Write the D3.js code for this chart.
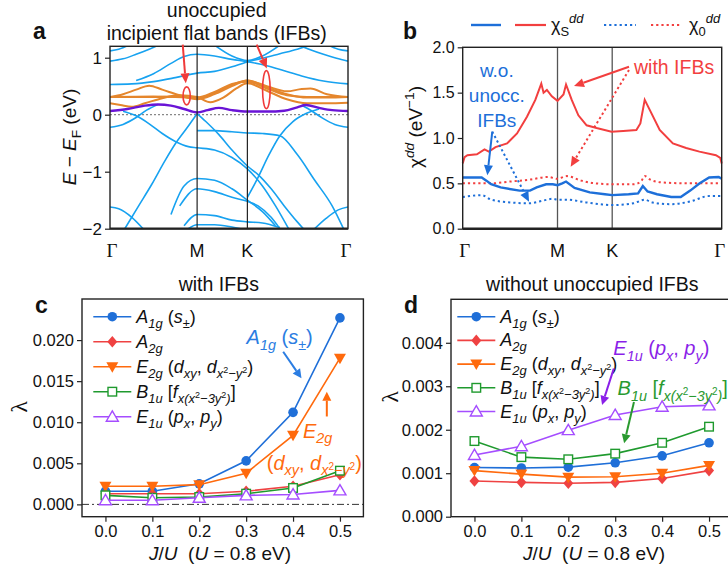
<!DOCTYPE html>
<html><head><meta charset="utf-8">
<script src="https://cdnjs.cloudflare.com/ajax/libs/d3/7.8.5/d3.min.js"></script>
<style>
body{margin:0;background:#fff}
text{font-family:"Liberation Sans",Arial,sans-serif;white-space:pre;fill:#111}
</style>
</head><body>
<script>
// ---------- DATA ----------
const kLabels = ['Γ','M','K','Γ'];
const kPos = [0, 1, 1.577, 2.732];

// panel a: bands as [k, E] (eV)
const blueBands = [
  [[0,0.94],[0.15,0.98],[0.3,1.06],[0.45,1.15],[0.56,1.22]],
  [[0,1.12],[0.1,1.15],[0.22,1.22]],
  [[0,0.53],[0.25,0.54],[0.5,0.58],[0.75,0.65],[1.0,0.73],[1.2,0.76],[1.4,0.84],[1.577,0.93]],
  [[0.3,0.6],[0.5,0.72],[0.7,0.9],[0.85,1.02],[1.0,1.06],[1.2,1.03],[1.4,0.97],[1.577,0.93],[1.8,0.86],[2.0,0.77],[2.2,0.68],[2.45,0.59],[2.732,0.54]],
  [[1.577,0.93],[1.75,0.99],[1.95,1.07],[2.15,1.15],[2.3,1.22]],
  [[1.2,1.22],[1.4,1.03],[1.577,0.95],[1.75,1.03],[1.95,1.22]],
  [[2.17,1.22],[2.3,1.14],[2.45,1.06],[2.6,0.99],[2.732,0.94]],
  [[2.5,1.22],[2.62,1.15],[2.732,1.12]],
  [[0,-0.22],[0.15,-0.17],[0.3,-0.05],[0.42,0.08],[0.55,0.18]],
  [[2.2,0.17],[2.32,0.06],[2.44,-0.06],[2.58,-0.17],[2.732,-0.22]],
  [[0.15,0.06],[0.3,-0.02],[0.45,-0.16],[0.6,-0.33],[0.75,-0.47],[0.9,-0.56],[1.0,-0.58],[1.2,-0.62],[1.4,-0.75],[1.577,-0.95],[1.75,-1.25],[1.9,-1.6],[2.05,-2.0]],
  [[0.17,-2.0],[0.32,-1.62],[0.48,-1.22],[0.63,-0.81],[0.75,-0.51],[0.87,-0.26],[1.0,0.02]],
  [[1.0,0.02],[1.1,-0.12],[1.25,-0.35],[1.4,-0.62],[1.577,-0.9],[1.7,-1.05],[1.85,-1.3],[2.0,-1.6],[2.15,-1.88],[2.22,-2.0]],
  [[1.0,-0.28],[1.2,-0.28],[1.4,-0.3],[1.577,-0.32],[1.75,-0.33],[1.95,-0.37],[2.15,-0.7],[2.35,-1.15],[2.55,-1.6],[2.68,-2.0]],
  [[1.577,-1.45],[1.7,-1.1],[1.82,-0.72],[1.95,-0.37],[2.1,-0.12],[2.25,0.02],[2.4,0.1]],
  [[0.7,-1.75],[0.85,-1.25],[1.0,-1.12],[1.2,-1.15],[1.4,-1.3],[1.577,-1.5],[1.75,-1.7],[1.9,-1.95]],
  [[0.8,-1.6],[1.0,-1.3],[1.2,-1.35],[1.4,-1.45],[1.577,-1.52],[1.7,-1.6],[1.85,-1.8],[1.95,-2.0]],
  [[0.85,-1.95],[1.0,-1.75],[1.2,-1.77],[1.4,-1.85],[1.577,-1.88],[1.75,-1.9],[1.95,-1.98]],
  [[0.9,-2.0],[1.0,-1.93],[1.2,-1.93],[1.4,-1.97],[1.5,-2.0]],
  [[0,-1.62],[0.1,-1.65],[0.25,-1.8],[0.38,-2.0]],
  [[2.35,-2.0],[2.48,-1.82],[2.62,-1.67],[2.732,-1.62]]
];
const orangeBands = [
  [[0,0.31],[0.25,0.31],[0.5,0.31],[0.75,0.32],[1.0,0.29],[1.2,0.38],[1.4,0.52],[1.577,0.6],[1.8,0.48],[2.03,0.36],[2.26,0.3],[2.49,0.3],[2.732,0.31]],
  [[0,0.31],[0.15,0.36],[0.3,0.44],[0.45,0.51],[0.6,0.44],[0.8,0.34],[1.0,0.27],[1.2,0.36],[1.4,0.5],[1.577,0.6],[1.8,0.5],[2.03,0.41],[2.2,0.45],[2.3,0.46],[2.49,0.36],[2.732,0.31]],
  [[0,0.2],[0.12,0.17],[0.25,0.14],[0.4,0.2],[0.6,0.29],[0.8,0.34],[1.0,0.31],[1.15,0.22],[1.3,0.3],[1.45,0.46],[1.577,0.55],[1.8,0.42],[2.03,0.27],[2.26,0.2],[2.49,0.2],[2.732,0.21]],
  [[0,0.31],[0.5,0.32],[1.0,0.3],[1.2,0.4],[1.4,0.54],[1.577,0.58],[1.8,0.46],[2.03,0.34],[2.26,0.31],[2.732,0.31]]
];
const purpleBands = [
  [[0,0.065],[0.2,0.1],[0.4,0.16],[0.55,0.18],[0.7,0.16],[0.85,0.1],[1.0,0.04],[1.12,0.08],[1.25,0.12],[1.4,0.08],[1.577,0.055],[1.8,0.055],[2.0,0.07],[2.15,0.13],[2.25,0.17],[2.4,0.12],[2.55,0.08],[2.732,0.065]]
];

// panel b: chi^dd along k path, [k, chi] (eV^-1)
const chiSWith = [[0,0.72],[0.02,0.79],[0.05,0.81],[0.15,0.82],[0.23,0.875],[0.276,0.85],[0.346,0.9],[0.468,0.94],[0.573,1.05],[0.678,1.235],[0.766,1.42],[0.829,1.6],[0.853,1.5],[0.888,1.53],[0.94,1.46],[1.0,1.41],[1.063,1.48],[1.09,1.59],[1.15,1.42],[1.22,1.25],[1.307,1.14],[1.412,1.11],[1.57,1.07],[1.693,1.077],[1.832,1.088],[1.874,1.16],[1.92,1.42],[1.973,1.31],[2.078,1.09],[2.217,0.94],[2.357,0.89],[2.497,0.85],[2.671,0.81],[2.717,0.78],[2.732,0.72]];
const chi0With = [[0,0.5],[0.3,0.5],[0.5,0.52],[0.7,0.54],[0.9,0.57],[1.0,0.55],[1.1,0.58],[1.25,0.53],[1.4,0.5],[1.577,0.49],[1.8,0.49],[1.88,0.52],[1.92,0.58],[1.98,0.54],[2.1,0.51],[2.4,0.5],[2.732,0.5]];
const chiSWo = [[0,0.565],[0.2,0.565],[0.25,0.53],[0.3,0.49],[0.4,0.455],[0.6,0.42],[0.71,0.42],[0.78,0.455],[0.88,0.49],[0.95,0.49],[1.0,0.48],[1.05,0.5],[1.09,0.52],[1.18,0.45],[1.34,0.4],[1.5,0.38],[1.577,0.37],[1.75,0.38],[1.85,0.39],[1.9,0.47],[1.95,0.41],[2.05,0.38],[2.2,0.35],[2.3,0.35],[2.4,0.42],[2.5,0.5],[2.6,0.565],[2.7,0.57],[2.732,0.55]];
const chi0Wo = [[0,0.35],[0.2,0.37],[0.3,0.32],[0.5,0.29],[0.7,0.28],[0.85,0.31],[0.95,0.33],[1.0,0.32],[1.1,0.32],[1.3,0.29],[1.45,0.27],[1.577,0.26],[1.8,0.28],[1.92,0.32],[2.0,0.29],[2.2,0.27],[2.4,0.3],[2.6,0.36],[2.732,0.36]];

// panels c, d: lambda vs J/U
const JU = [0, 0.1, 0.2, 0.3, 0.4, 0.5];
const withA1g = [0.0016, 0.0016, 0.0025, 0.0053, 0.0112, 0.0227];
const withA2g = [0.0013, 0.0013, 0.0013, 0.0016, 0.0022, 0.0036];
const withE2g = [0.0022, 0.0022, 0.0024, 0.0038, 0.0084, 0.0178];
const withB1u = [0.0011, 0.0008, 0.0009, 0.0013, 0.0020, 0.0041];
const withE1u = [0.0005, 0.0005, 0.0008, 0.0011, 0.0012, 0.0017];
const woA1g = [0.00113, 0.00112, 0.00114, 0.00124, 0.00140, 0.00170];
const woA2g = [0.00082, 0.00079, 0.00077, 0.00079, 0.00088, 0.00106];
const woE2g = [0.00106, 0.00098, 0.00091, 0.00092, 0.00100, 0.00118];
const woB1u = [0.00174, 0.00137, 0.00132, 0.00145, 0.00170, 0.00207];
const woE1u = [0.00142, 0.00162, 0.00199, 0.00234, 0.00253, 0.00256];

const ticksA = [-2, -1, 0, 1];
const ticksB = [0, 0.5, 1.0, 1.5, 2.0];
const ticksC = [0, 0.005, 0.01, 0.015, 0.02];
const ticksD = [0, 0.001, 0.002, 0.003, 0.004];
const ticksX = [0, 0.1, 0.2, 0.3, 0.4, 0.5];

// ---------- HELPERS ----------
const svg = d3.select('body').append('svg').attr('width', 728).attr('height', 572);
const LV = {0:{d:0,s:1}, sub:{d:0.28,s:0.72}, sup:{d:-0.42,s:0.72}, ss:{d:0.02,s:0.5}};
function rich(sel, segs, fs){
  let prev = 0;
  segs.forEach(([t, it, lvl]) => {
    const L = LV[lvl || 0];
    const ts = sel.append('tspan').text(t).attr('font-size', fs * L.s).attr('dy', ((L.d - prev) * fs).toFixed(2));
    if (it) ts.attr('font-style', 'italic');
    prev = L.d;
  });
  return sel;
}
function txt(x, y, segs, fs, opt = {}){
  const t = svg.append('text').attr('x', x).attr('y', y).attr('font-size', fs)
    .attr('text-anchor', opt.anchor || 'start');
  if (opt.rot) t.attr('transform', `rotate(${opt.rot},${x},${y})`);
  if (opt.color) t.style('fill', opt.color);
  if (opt.bold) t.attr('font-weight', 'bold');
  if (opt.family) t.style('font-family', opt.family);
  if (typeof segs === 'string') t.text(segs); else rich(t, segs, fs);
  return t;
}
function arrow(x1, y1, x2, y2, color, w, hl, hw, dash){
  const a = Math.atan2(y2 - y1, x2 - x1);
  const bx = x2 - hl * Math.cos(a), by = y2 - hl * Math.sin(a);
  svg.append('line').attr('x1', x1).attr('y1', y1).attr('x2', bx).attr('y2', by)
    .attr('stroke', color).attr('stroke-width', w).attr('stroke-dasharray', dash || null);
  const px = -Math.sin(a) * hw, py = Math.cos(a) * hw;
  svg.append('path').attr('d', `M${x2},${y2}L${bx+px},${by+py}L${bx-px},${by-py}Z`).attr('fill', color);
}
function frame(x0, y0, x1, y1, bw){
  svg.append('rect').attr('x', x0).attr('y', y0).attr('width', x1 - x0).attr('height', y1 - y0)
    .attr('fill', 'none').attr('stroke', '#222').attr('stroke-width', 1.4);
  if (bw) svg.append('line').attr('x1', x0).attr('x2', x1).attr('y1', y1).attr('y2', y1).attr('stroke', '#222').attr('stroke-width', bw);
}
function leftAxis(scale, x, major, minor, fmt, fs){
  const g = svg.append('g').attr('transform', `translate(${x},0)`);
  g.call(d3.axisLeft(scale).tickValues(minor).tickSize(3).tickFormat(''));
  g.call(d3.axisLeft(scale).tickValues(major).tickSize(5).tickPadding(3).tickFormat(fmt));
  g.selectAll('.domain').remove();
  g.selectAll('line').attr('stroke', '#222').attr('stroke-width', 1.2);
  g.selectAll('text').attr('font-size', fs).style('font-family', '"Liberation Sans",Arial,sans-serif').style('fill', '#111');
  return g;
}
function bottomAxis(scale, y, major, minor, fmt, fs){
  const g = svg.append('g').attr('transform', `translate(0,${y})`);
  g.call(d3.axisBottom(scale).tickValues(minor).tickSize(3).tickFormat(''));
  g.call(d3.axisBottom(scale).tickValues(major).tickSize(5).tickPadding(4).tickFormat(fmt));
  g.selectAll('.domain').remove();
  g.selectAll('line').attr('stroke', '#222').attr('stroke-width', 1.2);
  g.selectAll('text').attr('font-size', fs).style('font-family', '"Liberation Sans",Arial,sans-serif').style('fill', '#111');
  return g;
}
const minus = v => d3.format('d')(v).replace('-', '−');

// ---------- PANEL a ----------
const xA = d3.scaleLinear().domain([0, 2.732]).range([110, 348]);
const yA = d3.scaleLinear().domain([-2, 1.2]).range([228.7, 46.3]);
svg.append('clipPath').attr('id', 'clipA').append('rect')
  .attr('x', xA(0)).attr('y', yA(1.2)).attr('width', xA(2.732) - xA(0)).attr('height', yA(-2) - yA(1.2));
const gA = svg.append('g').attr('clip-path', 'url(#clipA)');
const lineA = d3.line().x(d => xA(d[0])).y(d => yA(d[1])).curve(d3.curveMonotoneX);
gA.append('line').attr('x1', xA(0)).attr('x2', xA(2.732)).attr('y1', yA(0)).attr('y2', yA(0))
  .attr('stroke', '#888').attr('stroke-width', 1.2).attr('stroke-dasharray', '2,2');
gA.selectAll('.bb').data(blueBands).join('path').attr('d', lineA)
  .attr('fill', 'none').attr('stroke', '#17a2f0').attr('stroke-width', 1.6);
gA.selectAll('.ob').data(orangeBands).join('path').attr('d', lineA)
  .attr('fill', 'none').attr('stroke', '#e5862c').attr('stroke-width', 2);
gA.selectAll('.pb').data(purpleBands).join('path').attr('d', lineA)
  .attr('fill', 'none').attr('stroke', '#6a14d6').attr('stroke-width', 2.4);
[1, 1.577].forEach(k => svg.append('line').attr('x1', xA(k)).attr('x2', xA(k)).attr('y1', yA(1.2)).attr('y2', yA(-2))
  .attr('stroke', '#222').attr('stroke-width', 1.2));
frame(xA(0), yA(1.2), xA(2.732), yA(-2), 2.2);
leftAxis(yA, xA(0), ticksA, d3.range(-2, 1.01, 0.5), minus, 17);
kLabels.forEach((l, i) => txt(xA(kPos[i]) + (i === 0 ? 2 : i === 3 ? -2 : 0), 257, l, l === 'Γ' ? 19 : 18,
  {anchor: 'middle', family: l === 'Γ' ? '"Liberation Serif","Times New Roman",serif' : null}));
txt(76, 137, [['E',1],[' − '],['E',1],['F',0,'sub'],[' (eV)']], 19, {anchor: 'middle', rot: -90});
txt(33, 39, 'a', 23, {bold: true});
txt(216.7, 16.5, 'unoccupied', 19.5, {anchor: 'middle'});
txt(216.7, 39.5, 'incipient flat bands (IFBs)', 19.5, {anchor: 'middle'});
// red ellipses & arrows
const red = '#f03a3a';
svg.append('ellipse').attr('cx', xA(0.88)).attr('cy', yA(0.33)).attr('rx', 3.6).attr('ry', 9)
  .attr('fill', 'none').attr('stroke', red).attr('stroke-width', 1.6);
svg.append('ellipse').attr('cx', xA(1.795)).attr('cy', yA(0.44)).attr('rx', 3.8).attr('ry', 19)
  .attr('fill', 'none').attr('stroke', red).attr('stroke-width', 1.6);
arrow(xA(0.835), yA(1.23), xA(0.87), yA(0.55), red, 2, 10, 4.5);
arrow(xA(1.684), yA(1.23), xA(1.8), yA(0.81), red, 2, 10, 4.5);

// ---------- PANEL b ----------
const xB = d3.scaleLinear().domain([0, 2.732]).range([462.7, 721.7]);
const yB = d3.scaleLinear().domain([0, 2]).range([228.7, 47.3]);
const lineB = d3.line().x(d => xB(d[0])).y(d => yB(d[1]));
const lineBs = d3.line().x(d => xB(d[0])).y(d => yB(d[1])).curve(d3.curveMonotoneX);
const redB = '#f23f3f', blueB = '#1d6fd9';
[1, 1.577].forEach(k => svg.append('line').attr('x1', xB(k)).attr('x2', xB(k)).attr('y1', yB(2)).attr('y2', yB(0))
  .attr('stroke', '#555').attr('stroke-width', 1.3));
svg.append('path').datum(chi0With).attr('d', lineBs).attr('fill', 'none').attr('stroke', redB).attr('stroke-width', 2).attr('stroke-dasharray', '2.2,3');
svg.append('path').datum(chi0Wo).attr('d', lineBs).attr('fill', 'none').attr('stroke', blueB).attr('stroke-width', 2).attr('stroke-dasharray', '2.2,3');
svg.append('path').datum(chiSWith).attr('d', lineB).attr('fill', 'none').attr('stroke', redB).attr('stroke-width', 2);
svg.append('path').datum(chiSWo).attr('d', lineB).attr('fill', 'none').attr('stroke', blueB).attr('stroke-width', 2.4);
frame(xB(0), yB(2), xB(2.732), yB(0), 2.6);
leftAxis(yB, xB(0), ticksB, d3.range(0, 2.01, 0.25), d3.format('.1f'), 16);
kLabels.forEach((l, i) => txt(xB(kPos[i]) + (i === 0 ? 2 : i === 3 ? -2 : 0), 257, l, l === 'Γ' ? 19 : 18,
  {anchor: 'middle', family: l === 'Γ' ? '"Liberation Serif","Times New Roman",serif' : null}));
txt(422, 127, [['χ'],['dd',1,'sup'],[' (eV'],['−1',0,'sup'],[')']], 19, {anchor: 'middle', rot: -90});
txt(403, 39, 'b', 23, {bold: true});
// legend
svg.append('line').attr('x1', 471).attr('x2', 501).attr('y1', 25).attr('y2', 25).attr('stroke', blueB).attr('stroke-width', 2.4);
svg.append('line').attr('x1', 515).attr('x2', 546).attr('y1', 25).attr('y2', 25).attr('stroke', redB).attr('stroke-width', 2.2);
txt(551, 31, [['χ'],['S',0,'sub'],['dd',1,'sup']], 18);
svg.append('line').attr('x1', 604).attr('x2', 636).attr('y1', 25).attr('y2', 25).attr('stroke', blueB).attr('stroke-width', 2).attr('stroke-dasharray', '2.2,3');
svg.append('line').attr('x1', 651).attr('x2', 682).attr('y1', 25).attr('y2', 25).attr('stroke', redB).attr('stroke-width', 2).attr('stroke-dasharray', '2.2,3');
txt(689, 31, [['χ'],['0',0,'sub'],['dd',1,'sup']], 18);
// annotations
txt(xB(2.23), 74, 'with IFBs', 19.5, {anchor: 'middle', color: redB});
arrow(xB(1.754), yB(1.786), xB(1.174), yB(1.573), redB, 2, 10, 4.5);
arrow(xB(1.754), yB(1.75), xB(1.139), yB(0.684), redB, 2, 10, 4.5, '2.2,2.8');
txt(xB(0.36), 77, 'w.o.', 19, {anchor: 'middle', color: blueB});
txt(xB(0.36), 102, 'unocc.', 19, {anchor: 'middle', color: blueB});
txt(xB(0.36), 127, 'IFBs', 19, {anchor: 'middle', color: blueB});
arrow(xB(0.312), yB(1.07), xB(0.26), yB(0.59), blueB, 2, 10, 4.5);
arrow(xB(0.312), yB(1.07), xB(0.70), yB(0.298), blueB, 2, 10, 4.5, '2.2,2.8');

// ---------- PANELS c, d ----------
const cA1g = '#1f6fd8', cA2g = '#ef4242', cE2g = '#ff6a0d', cB1u = '#1f9a2e', cE1u = '#a54dff';
const seriesMeta = [
  {key: 'A1g', color: cA1g, sym: 'circle', label: [['A',1],['1g',1,'sub'],[' ('],['s',1],['±',0,'sub'],[')']]},
  {key: 'A2g', color: cA2g, sym: 'diamond', label: [['A',1],['2g',1,'sub']]},
  {key: 'E2g', color: cE2g, sym: 'tdown', label: [['E',1],['2g',1,'sub'],[' ('],['d',1],['xy',1,'sub'],[', '],['d',1],['x',1,'sub'],['2',0,'ss'],['−y',1,'sub'],['2',0,'ss'],[')']]},
  {key: 'B1u', color: cB1u, sym: 'square', label: [['B',1],['1u',1,'sub'],[' ['],['f',1],['x(x',1,'sub'],['2',0,'ss'],['−3y',1,'sub'],['2',0,'ss'],[')',1,'sub'],[']']]},
  {key: 'E1u', color: cE1u, sym: 'tup', label: [['E',1],['1u',1,'sub'],[' ('],['p',1],['x',1,'sub'],[', '],['p',1],['y',1,'sub'],[')']]}
];
function marker(g, x, y, m){
  const c = m.color;
  if (m.sym === 'circle') g.append('circle').attr('cx', x).attr('cy', y).attr('r', 4.8).attr('fill', c);
  else if (m.sym === 'diamond') g.append('path').attr('d', `M${x},${y-5.8}L${x+5},${y}L${x},${y+5.8}L${x-5},${y}Z`).attr('fill', c);
  else if (m.sym === 'tdown') g.append('path').attr('d', `M${x-6},${y-4.5}L${x+6},${y-4.5}L${x},${y+6}Z`).attr('fill', c);
  else if (m.sym === 'square') g.append('rect').attr('x', x-4.3).attr('y', y-4.3).attr('width', 8.6).attr('height', 8.6).attr('fill', '#fff').attr('stroke', c).attr('stroke-width', 1.4);
  else if (m.sym === 'tup') g.append('path').attr('d', `M${x},${y-5.8}L${x+6},${y+4.5}L${x-6},${y+4.5}Z`).attr('fill', '#fff').attr('stroke', c).attr('stroke-width', 1.4);
}
function lambdaPanel(xS, yS, data, legX, legY0, legDy){
  const ln = d3.line().x((d, i) => xS(JU[i])).y(d => yS(d));
  seriesMeta.forEach((m, si) => {
    const vals = data[si];
    svg.append('path').datum(vals).attr('d', ln).attr('fill', 'none').attr('stroke', m.color).attr('stroke-width', 1.6);
    const g = svg.append('g');
    vals.forEach((v, i) => marker(g, xS(JU[i]), yS(v), m));
  });
  seriesMeta.forEach((m, si) => {
    const y = legY0 + si * legDy;
    svg.append('line').attr('x1', legX).attr('x2', legX + 38).attr('y1', y).attr('y2', y).attr('stroke', m.color).attr('stroke-width', 1.6);
    marker(svg.append('g'), legX + 19, y, m);
    txt(legX + 43, y + 6, m.label, 18);
  });
}

// panel c
const xC = d3.scaleLinear().domain([-0.05, 0.55]).range([82, 363.4]);
const yC = d3.scaleLinear().domain([-0.0015, 0.025]).range([516.7, 299]);
svg.append('line').attr('x1', xC(-0.05)).attr('x2', xC(0.55)).attr('y1', yC(0)).attr('y2', yC(0))
  .attr('stroke', '#333').attr('stroke-width', 1).attr('stroke-dasharray', '7,3,2,3');
lambdaPanel(xC, yC, [withA1g, withA2g, withE2g, withB1u, withE1u], 93.3, 316.7, 25);
frame(xC(-0.05), yC(0.025), xC(0.55), yC(-0.0015));
leftAxis(yC, xC(-0.05), ticksC, d3.range(0, 0.0226, 0.0025), d3.format('.3f'), 16.5);
bottomAxis(xC, yC(-0.0015), ticksX, d3.range(-0.05, 0.551, 0.05), d3.format('.1f'), 16.5);
txt(27, 407, 'λ', 24, {anchor: 'middle', rot: -90, family: '"Liberation Serif","Times New Roman",serif'});
txt(220, 560, [['J',1],['/'],['U',1],['  ('],['U',1],[' = 0.8 eV)']], 19, {anchor: 'middle'});
txt(218.8, 291, 'with IFBs', 19.5, {anchor: 'middle'});
txt(35, 313.3, 'c', 23, {bold: true});
const annBlue = '#2b7de2';
txt(xC(0.301), 344, [['A',1],['1g',1,'sub'],[' ('],['s',1],['±',0,'sub'],[')']], 20, {color: annBlue});
arrow(xC(0.379), yC(0.01858), xC(0.418), yC(0.01535), annBlue, 2, 9, 4.5);
txt(xC(0.421), yC(0.0081), [['E',1],['2g',1,'sub']], 20, {color: cE2g});
txt(xC(0.344), yC(0.0042), [['('],['d',1],['xy',1,'sub'],[', '],['d',1],['x',1,'sub'],['2',0,'ss'],['−y',1,'sub'],['2',0,'ss'],[')']], 20, {color: cE2g});
arrow(xC(0.472), yC(0.0107), xC(0.472), yC(0.0137), cE2g, 2, 9, 4.5);

// panel d
const xD = d3.scaleLinear().domain([-0.05, 0.55]).range([451, 732.5]);
const yD = d3.scaleLinear().domain([0, 0.005]).range([516.7, 299.3]);
lambdaPanel(xD, yD, [woA1g, woA2g, woE2g, woB1u, woE1u], 457.3, 316.7, 23.7);
frame(xD(-0.05), yD(0.005), xD(0.55), yD(0));
leftAxis(yD, xD(-0.05), ticksD, d3.range(0, 0.00451, 0.0005), d3.format('.3f'), 16.5);
bottomAxis(xD, yD(0), ticksX, d3.range(-0.05, 0.551, 0.05), d3.format('.1f'), 16.5);
txt(398, 397, 'λ', 24, {anchor: 'middle', rot: -90, family: '"Liberation Serif","Times New Roman",serif'});
txt(594, 560, [['J',1],['/'],['U',1],['  ('],['U',1],[' = 0.8 eV)']], 19, {anchor: 'middle'});
txt(592.3, 291, 'without unoccupied IFBs', 19.5, {anchor: 'middle'});
txt(404, 313.3, 'd', 23, {bold: true});
const annPur = '#8a1fe8', annGrn = '#2a9a30';
txt(xD(0.296), yD(0.00372), [['E',1],['1u',1,'sub'],[' ('],['p',1],['x',1,'sub'],[', '],['p',1],['y',1,'sub'],[')']], 20, {color: annPur});
arrow(xD(0.297), yD(0.00341), xD(0.272), yD(0.00257), annPur, 2, 9, 4.5);
txt(xD(0.305), yD(0.0028), [['B',1],['1u',1,'sub'],[' ['],['f',1],['x(x',1,'sub'],['2',0,'ss'],['−3y',1,'sub'],['2',0,'ss'],[')',1,'sub'],[']']], 20, {color: annGrn});
arrow(xD(0.34), yD(0.00264), xD(0.319), yD(0.00169), annGrn, 2, 9, 4.5);
</script>
</body></html>
